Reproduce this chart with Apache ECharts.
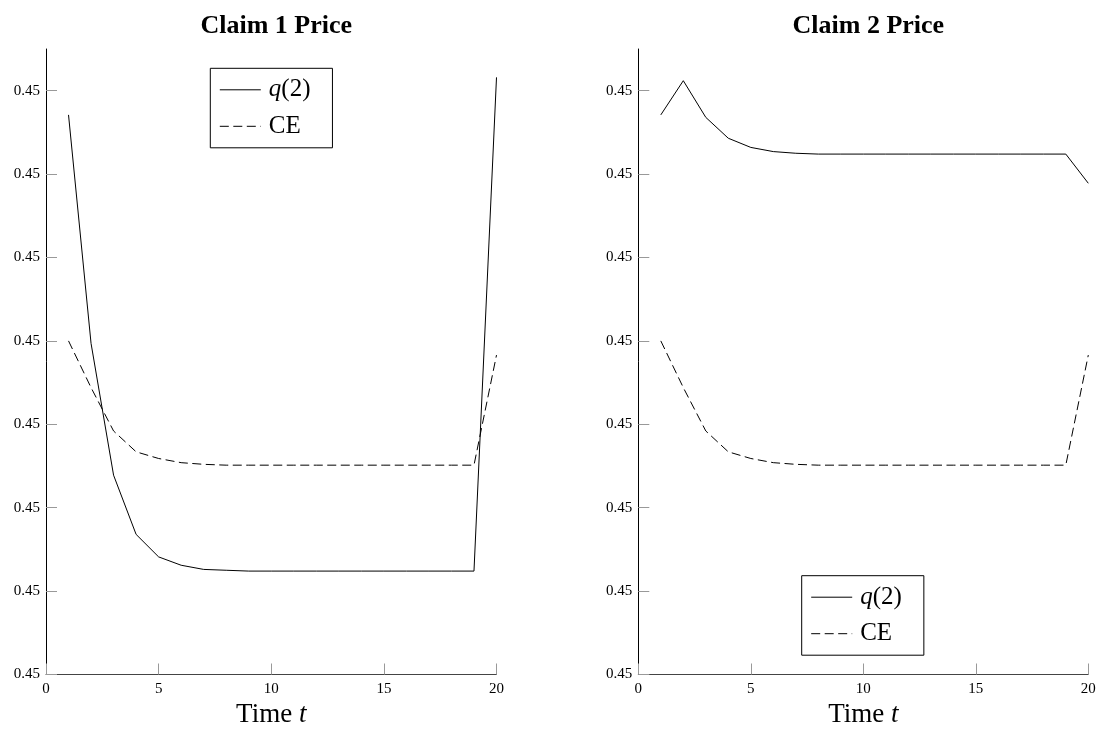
<!DOCTYPE html>
<html>
<head>
<meta charset="utf-8">
<script src="https://cdn.jsdelivr.net/npm/echarts@6/dist/echarts.min.js"></script>
<style>
html,body{margin:0;padding:0;background:#fff;}
#chart{width:1097px;height:738px;}
</style>
</head>
<body>
<div id="chart"></div>
<script>
const time = [1,2,3,4,5,6,7,8,9,10,11,12,13,14,15,16,17,18,19,20];
const claim1Q2 = [0.450671,0.450397,0.450239,0.450168,0.450141,0.450131,0.450126,0.450125,0.450124,0.450124,0.450124,0.450124,0.450124,0.450124,0.450124,0.450124,0.450124,0.450124,0.450124,0.450716];
const claim1CE = [0.450400,0.450344,0.450292,0.450267,0.450259,0.450254,0.450252,0.450251,0.450251,0.450251,0.450251,0.450251,0.450251,0.450251,0.450251,0.450251,0.450251,0.450251,0.450251,0.450383];
const claim2Q2 = [0.450671,0.450712,0.450668,0.450643,0.450632,0.450627,0.450625,0.450624,0.450624,0.450624,0.450624,0.450624,0.450624,0.450624,0.450624,0.450624,0.450624,0.450624,0.450624,0.450589];
const claim2CE = [0.450400,0.450344,0.450292,0.450267,0.450259,0.450254,0.450252,0.450251,0.450251,0.450251,0.450251,0.450251,0.450251,0.450251,0.450251,0.450251,0.450251,0.450251,0.450251,0.450383];
const yTicks = [0.4500,0.4501,0.4502,0.4503,0.4504,0.4505,0.4506,0.4507];
const xTicks = [0,5,10,15,20];
const titles = ['Claim 1 Price','Claim 2 Price'];
const seriesNames = ['q(2)','CE'];

const FONT = 'Liberation Serif';
const pairs = (vals) => time.map((t,i)=>[t, vals[i]]);

function xAxisOpt(idx){
  return {
    type:'value', gridIndex:idx, min:0, max:20,
    name:'Time {i|t}', nameLocation:'middle', nameGap:27, nameMoveOverlap:false,
    nameTextStyle:{fontFamily:FONT,fontSize:27,color:'#000',
      rich:{i:{fontFamily:FONT,fontSize:27,fontStyle:'italic',color:'#000'}}},
    axisLine:{show:true,onZero:false,lineStyle:{color:'#444',width:1}},
    axisTick:{show:true,inside:true,length:11,customValues:xTicks,lineStyle:{color:'#999',width:1}},
    axisLabel:{customValues:xTicks,margin:7,fontFamily:FONT,fontSize:15,color:'#000'},
    splitLine:{show:false}
  };
}
function yAxisOpt(idx){
  return {
    type:'value', gridIndex:idx, min:0.45, max:0.45075,
    axisLine:{show:true,onZero:false,lineStyle:{color:'#000',width:1}},
    axisTick:{show:true,inside:true,length:11,customValues:yTicks,lineStyle:{color:'#999',width:1}},
    axisLabel:{customValues:yTicks,margin:6,fontFamily:FONT,fontSize:15,color:'#000',
      formatter:(v)=>Number(v).toFixed(2)},
    splitLine:{show:false}
  };
}
function lineSeries(name, idx, vals, dashed){
  return {
    name:name, type:'line', xAxisIndex:idx, yAxisIndex:idx,
    data:pairs(vals), symbol:'none', silent:true,
    lineStyle:{color:'#000',width:1,type: dashed ? [9,4.5] : 'solid'},
    itemStyle:{color:'#000'}
  };
}
function legendOpt(left, top){
  return {
    orient:'vertical', left:left, top:top,
    data:seriesNames,
    itemWidth:41, itemHeight:14, itemGap:11.5,
    padding:[9,22,9,9],
    borderColor:'#000', borderWidth:1, backgroundColor:'#fff',
    selectedMode:false,
    itemStyle:{color:'rgba(0,0,0,0)', borderWidth:0, opacity:0},
    lineStyle:{width:1},
    formatter:(n)=> n==='q(2)' ? '{i|q}(2)' : n,
    textStyle:{fontFamily:FONT,fontSize:25,color:'#000',padding:[0,0,0,3],
      rich:{i:{fontFamily:FONT,fontSize:25,fontStyle:'italic',color:'#000'}}}
  };
}

const chart = echarts.init(document.getElementById('chart'), null, {renderer:'canvas'});
chart.setOption({
  animation:false,
  backgroundColor:'#fff',
  title:[
    {text:titles[0], left:271.25, top:8, textAlign:'center',
      textStyle:{fontFamily:FONT,fontSize:26,fontWeight:'bold',color:'#000'}},
    {text:titles[1], left:863.3, top:8, textAlign:'center',
      textStyle:{fontFamily:FONT,fontSize:26,fontWeight:'bold',color:'#000'}}
  ],
  grid:[
    {left:46, top:49, width:450.5, height:625.5, containLabel:false, outerBoundsMode:'none'},
    {left:638.3, top:49, width:450, height:625.5, containLabel:false, outerBoundsMode:'none'}
  ],
  xAxis:[xAxisOpt(0), xAxisOpt(1)],
  yAxis:[yAxisOpt(0), yAxisOpt(1)],
  legend:[legendOpt(210.3, 68.3), legendOpt(801.7, 575.7)],
  series:[
    lineSeries(seriesNames[0],0,claim1Q2,false),
    lineSeries(seriesNames[1],0,claim1CE,true),
    lineSeries(seriesNames[0],1,claim2Q2,false),
    lineSeries(seriesNames[1],1,claim2CE,true)
  ]
});
</script>
</body>
</html>
